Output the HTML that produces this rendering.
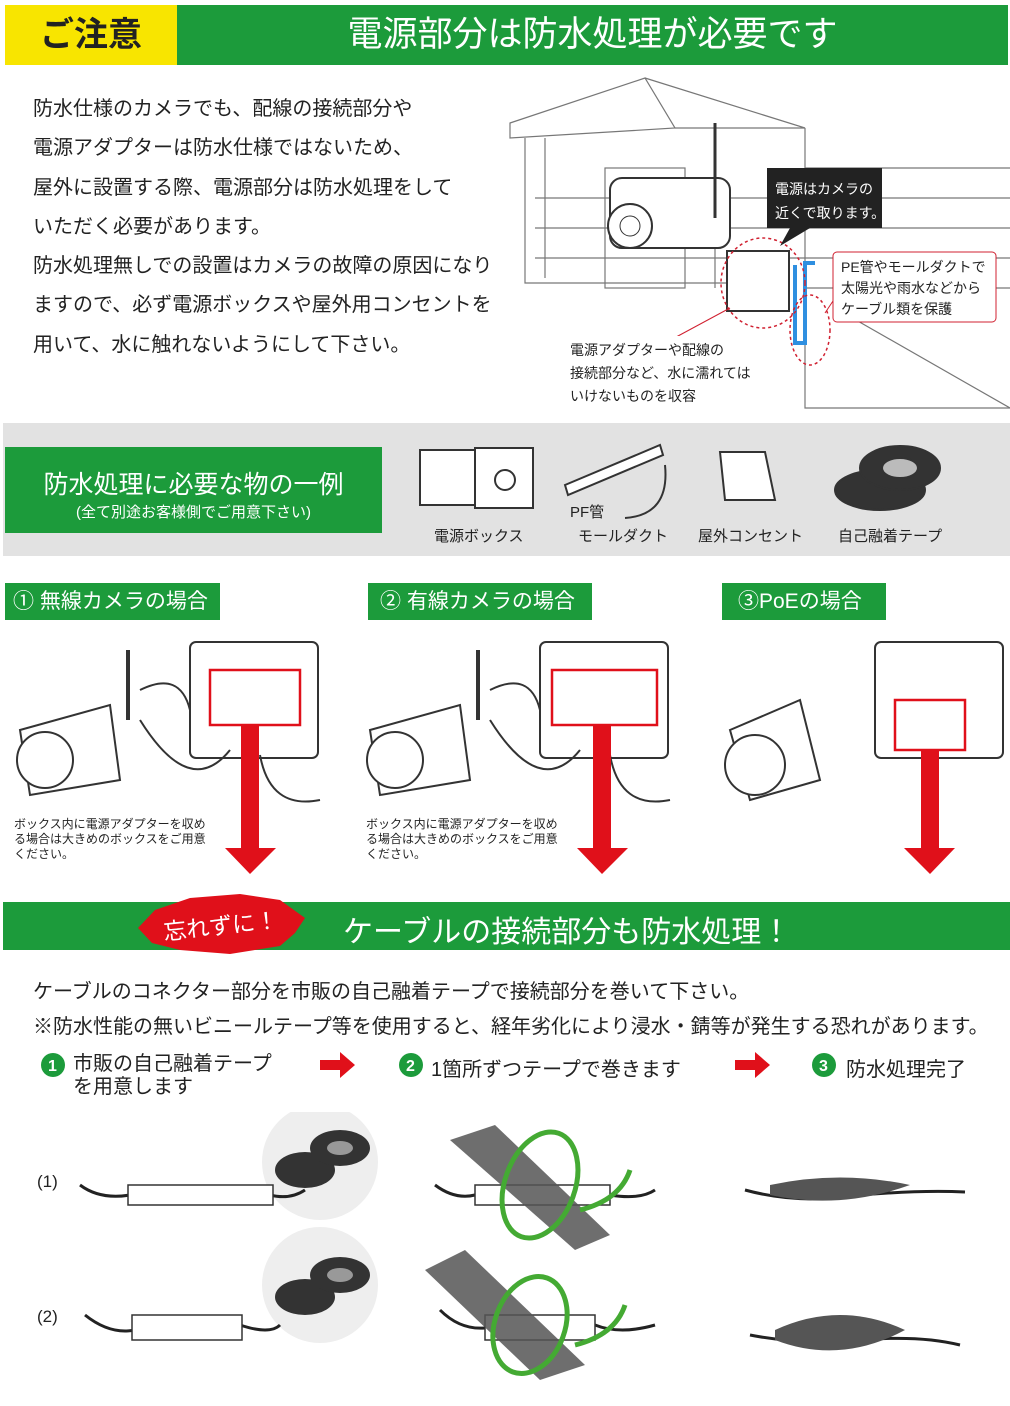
<!DOCTYPE html>
<html><head><meta charset="utf-8"><style>
*{margin:0;padding:0;box-sizing:border-box}
body{width:1010px;height:1406px;background:#fff;position:relative;overflow:hidden;font-family:"Liberation Sans","Noto Sans CJK JP",sans-serif;color:#222}
.a{position:absolute;white-space:nowrap}
.g{background:#1c9b3b;color:#fff}
</style></head><body>
<div class="a" style="left:5px;top:5px;width:172px;height:60px;background:#f8e500;font-size:34px;font-weight:bold;line-height:60px;text-align:center;color:#222">ご注意</div>
<div class="a g" style="left:177px;top:5px;width:831px;height:60px;font-size:35px;line-height:60px;text-align:center">電源部分は防水処理が必要です</div>
<div class="a" style="left:33px;top:90px;font-size:20px;line-height:39.3px">防水仕様のカメラでも、配線の接続部分や<br>電源アダプターは防水仕様ではないため、<br>屋外に設置する際、電源部分は防水処理をして<br>いただく必要があります。<br>防水処理無しでの設置はカメラの故障の原因になり<br>ますので、必ず電源ボックスや屋外用コンセントを<br>用いて、水に触れないようにして下さい。</div>
<svg class="a" style="left:505px;top:68px" width="505" height="345">
<g stroke="#777" fill="none" stroke-width="1.2">
<path d="M5 55 L140 10 L170 60 L5 70Z"/><path d="M140 10 L300 60 L170 60"/>
<path d="M20 70 V215 H230 M40 70 V210 M210 60 V220 M300 60 V340 H505"/>
<path d="M30 130 H300 M30 160 H300 M30 190 H300"/>
<path d="M300 100 H505 M300 130 H505 M300 160 H505 M300 190 H505 M300 220 H505 M330 240 L505 340"/>
<rect x="100" y="100" width="80" height="120"/>
</g>
<rect x="105" y="110" width="120" height="70" rx="12" fill="#fff" stroke="#333" stroke-width="2"/>
<circle cx="125" cy="158" r="22" fill="#fff" stroke="#333" stroke-width="2"/><circle cx="125" cy="158" r="10" fill="none" stroke="#333"/>
<path d="M210 55 V150" stroke="#333" stroke-width="3"/>
<rect x="222" y="183" width="62" height="60" fill="#fff" stroke="#333" stroke-width="2"/>
<path d="M290 197 V275 H300 V195 H310" stroke="#2f8fe0" stroke-width="4" fill="none"/>
<ellipse cx="258" cy="215" rx="42" ry="45" fill="none" stroke="#d02030" stroke-width="1.5" stroke-dasharray="3 3"/>
<ellipse cx="305" cy="262" rx="20" ry="35" fill="none" stroke="#d02030" stroke-width="1.5" stroke-dasharray="3 3"/>
<path d="M225 240 L160 275 M320 245 L330 230" stroke="#d02030"/>
<rect x="262" y="100" width="115" height="60" fill="#222"/><path d="M285 160 L275 178 L305 160Z" fill="#222"/>
<rect x="328" y="184" width="163" height="70" rx="4" fill="#fff" stroke="#d02030"/>
<text x="270" y="126" fill="#fff" font-size="14">電源はカメラの</text><text x="270" y="150" fill="#fff" font-size="14">近くで取ります。</text>
<text x="336" y="204" font-size="14" fill="#222">PE管やモールダクトで</text><text x="336" y="225" font-size="14" fill="#222">太陽光や雨水などから</text><text x="336" y="246" font-size="14" fill="#222">ケーブル類を保護</text>
<rect x="60" y="268" width="200" height="72" fill="#fff"/>
<text x="65" y="287" font-size="14" fill="#222">電源アダプターや配線の</text><text x="65" y="310" font-size="14" fill="#222">接続部分など、水に濡れては</text><text x="65" y="333" font-size="14" fill="#222">いけないものを収容</text>
</svg>
<div class="a" style="left:3px;top:423px;width:1007px;height:133px;background:#e2e2e2"></div>
<div class="a g" style="left:5px;top:447px;width:377px;height:86px;text-align:center"><div style="font-size:25px;margin-top:18px">防水処理に必要な物の一例</div><div style="font-size:15px">(全て別途お客様側でご用意下さい)</div></div>
<svg class="a" style="left:410px;top:440px" width="600" height="90">
<g stroke="#333" stroke-width="2" fill="#fff"><rect x="10" y="10" width="55" height="55"/><rect x="65" y="8" width="58" height="60"/><circle cx="95" cy="40" r="10"/>
<path d="M155 45 L250 5 L253 15 L158 55Z"/><path d="M255 25 Q260 75 215 78" fill="none"/>
<path d="M310 12 H355 L365 60 H315Z"/>
<ellipse cx="470" cy="50" rx="45" ry="20" fill="#333"/><ellipse cx="490" cy="28" rx="40" ry="22" fill="#333"/><ellipse cx="490" cy="28" rx="18" ry="10" fill="#bbb"/></g>
</svg>
<div class="a" style="left:434px;top:525px;font-size:15px">電源ボックス</div>
<div class="a" style="left:570px;top:501px;font-size:15px">PF管</div>
<div class="a" style="left:578px;top:525px;font-size:15px">モールダクト</div>
<div class="a" style="left:698px;top:525px;font-size:15px">屋外コンセント</div>
<div class="a" style="left:838px;top:525px;font-size:15px">自己融着テープ</div>
<div class="a g" style="left:5px;top:583px;width:215px;height:37px;font-size:21px;line-height:37px;padding-left:8px">① 無線カメラの場合</div>
<div class="a g" style="left:368px;top:583px;width:224px;height:37px;font-size:21px;line-height:37px;padding-left:12px">② 有線カメラの場合</div>
<div class="a g" style="left:722px;top:583px;width:164px;height:37px;font-size:21px;line-height:37px;padding-left:16px">③PoEの場合</div>
<svg class="a" style="left:0;top:630px" width="1010" height="250">
<g stroke="#333" stroke-width="2" fill="#fff">
<rect x="190" y="12" width="128" height="116" rx="6"/><rect x="540" y="12" width="128" height="116" rx="6"/><rect x="875" y="12" width="128" height="116" rx="6"/>
<path d="M20 100 L110 75 L120 150 L30 165Z"/><circle cx="45" cy="130" r="28"/><path d="M128 20 V90" stroke-width="4"/>
<path d="M370 100 L460 75 L470 150 L380 165Z"/><circle cx="395" cy="130" r="28"/><path d="M478 20 V90" stroke-width="4"/>
<path d="M730 100 L800 70 L820 150 L750 170Z"/><circle cx="755" cy="135" r="30"/>
<path d="M140 60 Q180 40 190 80 M140 90 Q190 170 230 120 M260 125 Q270 180 320 170" fill="none"/>
<path d="M490 60 Q530 40 540 80 M490 90 Q540 170 580 120 M610 125 Q620 180 670 170" fill="none"/>
</g>
<g fill="none" stroke="#e0101a" stroke-width="2.5"><rect x="210" y="40" width="90" height="55"/><rect x="552" y="40" width="105" height="55"/><rect x="895" y="70" width="70" height="50"/></g>
<g fill="#e0101a"><rect x="241" y="95" width="18" height="125"/><path d="M225 218 H276 L250 244Z"/>
<rect x="593" y="95" width="18" height="125"/><path d="M577 218 H628 L602 244Z"/>
<rect x="921" y="120" width="18" height="100"/><path d="M904 218 H955 L930 244Z"/></g>
</svg>
<div class="a" style="left:14px;top:817px;font-size:12px;line-height:15px">ボックス内に電源アダプターを収め<br>る場合は大きめのボックスをご用意<br>ください。</div>
<div class="a" style="left:366px;top:817px;font-size:12px;line-height:15px">ボックス内に電源アダプターを収め<br>る場合は大きめのボックスをご用意<br>ください。</div>
<div class="a g" style="left:3px;top:902px;width:1007px;height:48px"></div>
<div class="a" style="left:343px;top:907px;font-size:30px;color:#fff">ケーブルの接続部分も防水処理！</div>
<svg class="a" style="left:130px;top:888px" width="180" height="72"><path d="M8 40 L25 22 L60 10 L110 6 L150 12 L175 30 L165 45 L150 58 L100 66 L50 62 L22 55Z" fill="#e0101a"/></svg>
<div class="a" style="left:163px;top:907px;font-size:23px;color:#fff;transform:rotate(-6deg)">忘れずに！</div>
<div class="a" style="left:33px;top:975px;font-size:20px">ケーブルのコネクター部分を市販の自己融着テープで接続部分を巻いて下さい。</div>
<div class="a" style="left:33px;top:1010px;font-size:20px">※防水性能の無いビニールテープ等を使用すると、経年劣化により浸水・錆等が発生する恐れがあります。</div>
<svg class="a" style="left:0;top:1050px" width="1010" height="56">
<g fill="#1c9b3b"><circle cx="53" cy="15" r="12"/><circle cx="411" cy="15" r="12"/><circle cx="824" cy="15" r="12"/></g>
<g fill="#e0101a"><path d="M320 10 H340 V2 L355 15 L340 28 V20 H320Z"/><path d="M735 10 H755 V2 L770 15 L755 28 V20 H735Z"/></g>
<g fill="#fff" font-size="16" font-weight="bold"><text x="48" y="21">1</text><text x="406" y="21">2</text><text x="819" y="21">3</text></g>
</svg>
<div class="a" style="left:73px;top:1053px;font-size:20px;line-height:23px">市販の自己融着テープ<br>を用意します</div>
<div class="a" style="left:431px;top:1053px;font-size:20px">1箇所ずつテープで巻きます</div>
<div class="a" style="left:846px;top:1053px;font-size:20px">防水処理完了</div>
<div class="a" style="left:37px;top:1172px;font-size:17px">(1)</div>
<div class="a" style="left:37px;top:1307px;font-size:17px">(2)</div>
<svg class="a" style="left:0;top:1112px" width="1010" height="290">
<g transform="translate(0,-12)">
<circle cx="320" cy="62" r="58" fill="#eee"/><circle cx="320" cy="185" r="58" fill="#eee"/>
<g fill="#333"><ellipse cx="305" cy="70" rx="30" ry="18"/><ellipse cx="340" cy="48" rx="30" ry="18"/><ellipse cx="305" cy="197" rx="30" ry="18"/><ellipse cx="340" cy="175" rx="30" ry="18"/></g>
<g fill="#999"><ellipse cx="340" cy="48" rx="13" ry="7"/><ellipse cx="340" cy="175" rx="13" ry="7"/></g>
<g stroke="#222" stroke-width="3" fill="none">
<path d="M80 85 Q100 100 130 95 M270 95 Q290 100 305 90"/><path d="M85 215 Q110 235 135 230 M240 225 Q270 235 280 225"/>
<path d="M435 85 Q455 100 475 95 M610 95 Q640 100 655 90"/><path d="M440 210 Q460 230 485 228 M595 225 Q620 235 655 225"/>
<path d="M745 90 Q800 105 860 95 Q920 90 965 92"/><path d="M750 235 Q800 245 860 240 Q920 235 960 245"/>
</g>
<g fill="#fff" stroke="#333" stroke-width="1.5"><rect x="128" y="85" width="145" height="20"/><rect x="132" y="215" width="110" height="25"/><rect x="475" y="85" width="135" height="20"/><rect x="485" y="215" width="110" height="25"/></g>
<path d="M450 40 L495 25 L610 135 L575 150Z" fill="#555" opacity=".85"/><path d="M425 170 L465 150 L585 265 L540 280Z" fill="#555" opacity=".85"/>
<g stroke="#44aa33" stroke-width="5" fill="none"><ellipse cx="540" cy="85" rx="35" ry="55" transform="rotate(20 540 85)"/><ellipse cx="530" cy="225" rx="35" ry="50" transform="rotate(20 530 225)"/><path d="M580 110 Q620 100 630 70"/><path d="M575 245 Q615 235 625 205"/></g>
<g fill="#555"><path d="M770 85 Q840 70 910 85 Q840 110 770 95Z"/><path d="M775 230 Q840 200 905 230 Q840 265 775 240Z"/></g>
</g>
</svg>
</body></html>
